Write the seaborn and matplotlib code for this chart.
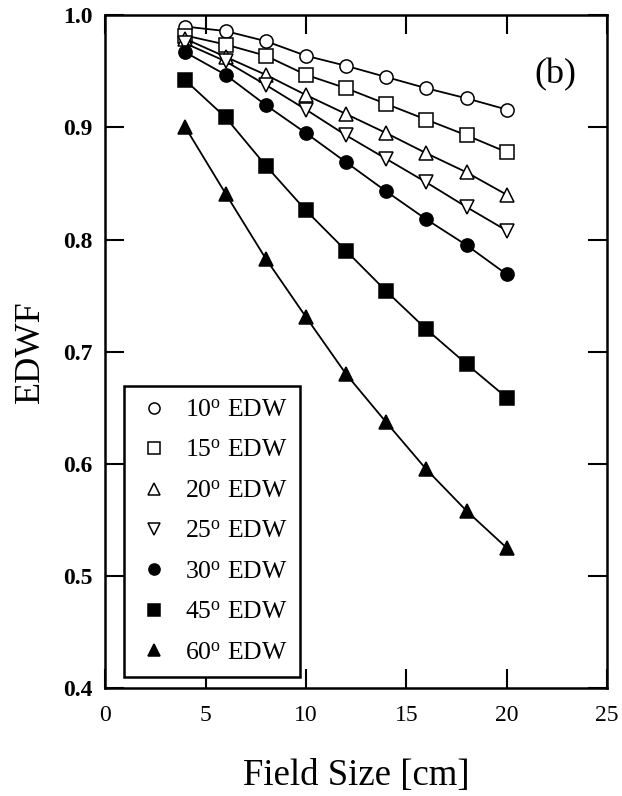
import matplotlib
matplotlib.use("Agg")
import matplotlib.pyplot as plt
from matplotlib.lines import Line2D
import seaborn as sns
import pandas as pd

# Field sizes (cm) at which the wedge factors were measured
field_size = [4, 6, 8, 10, 12, 14, 16, 18, 20]

# Enhanced dynamic wedge factors for each wedge angle
edwf_10 = [0.990, 0.986, 0.977, 0.964, 0.955, 0.945, 0.935, 0.926, 0.916]
edwf_15 = [0.982, 0.974, 0.964, 0.947, 0.935, 0.921, 0.907, 0.893, 0.878]
edwf_20 = [0.979, 0.963, 0.947, 0.929, 0.912, 0.895, 0.877, 0.860, 0.840]
edwf_25 = [0.975, 0.959, 0.938, 0.916, 0.893, 0.872, 0.851, 0.829, 0.808]
edwf_30 = [0.967, 0.947, 0.920, 0.895, 0.869, 0.843, 0.818, 0.795, 0.769]
edwf_45 = [0.942, 0.909, 0.866, 0.826, 0.790, 0.754, 0.720, 0.689, 0.659]
edwf_60 = [0.900, 0.841, 0.783, 0.731, 0.680, 0.637, 0.595, 0.558, 0.525]

wedge_angles = ["10", "15", "20", "25", "30", "45", "60"]
series = [edwf_10, edwf_15, edwf_20, edwf_25, edwf_30, edwf_45, edwf_60]
markers = ["o", "s", "^", "v", "o", "s", "^"]
filled = [False, False, False, False, True, True, True]

x_ticks = [0, 5, 10, 15, 20, 25]
y_ticks = [0.4, 0.5, 0.6, 0.7, 0.8, 0.9, 1.0]

sns.set_theme(style="ticks")
plt.rcParams["font.family"] = ["Liberation Serif", "DejaVu Serif"]
plt.rcParams["mathtext.fontset"] = "custom"
plt.rcParams["mathtext.rm"] = "Liberation Serif"
plt.rcParams["mathtext.it"] = "Liberation Serif:italic"
plt.rcParams["text.color"] = "black"
plt.rcParams["axes.labelcolor"] = "black"
plt.rcParams["xtick.color"] = "black"
plt.rcParams["ytick.color"] = "black"

fig = plt.figure(figsize=(6.22, 7.96), dpi=100)
ax = fig.add_axes([0.169, 0.1357, 0.807, 0.845])

rows = []
for angle, vals in zip(wedge_angles, series):
    for fs, v in zip(field_size, vals):
        rows.append({"angle": angle, "field": fs, "edwf": v})
df = pd.DataFrame(rows)

handles = []
for angle, mk, fill in zip(wedge_angles, markers, filled):
    sub = df[df["angle"] == angle]
    sns.lineplot(data=sub, x="field", y="edwf", ax=ax, color="black",
                 linewidth=1.3, marker=mk, markersize=9.5,
                 markerfacecolor="black" if fill else "white",
                 markeredgecolor="black", markeredgewidth=1.1,
                 legend=False)
    handles.append(Line2D([], [], linestyle="none", marker=mk, markersize=8,
                          markerfacecolor="black" if fill else "white",
                          markeredgecolor="black", markeredgewidth=1.1,
                          label=angle + r"$^\mathrm{o}$ EDW"))

ax.set_xlim(0, 25)
ax.set_ylim(0.4, 1.0)
ax.set_xticks(x_ticks)
ax.set_yticks(y_ticks)
ax.set_xticklabels([str(t) for t in x_ticks], fontsize=17)
ax.set_yticklabels([f"{t:.1f}" for t in y_ticks], fontsize=17,
                   fontweight="bold")

ax.tick_params(axis="both", which="major", direction="in", length=14,
               width=1.5, top=True, right=True, color="black")
ax.tick_params(axis="x", pad=12)
ax.tick_params(axis="y", pad=9)
for sp in ax.spines.values():
    sp.set_linewidth(1.8)
    sp.set_color("black")

ax.set_xlabel("Field Size [cm]", fontsize=26.5, labelpad=24)
ax.set_ylabel("EDWF", fontsize=26, labelpad=12)

ax.text(0.898, 0.912, "(b)", transform=ax.transAxes, fontsize=26,
        ha="center", va="center")

leg = ax.legend(handles=handles, loc="lower left",
                bbox_to_anchor=(0.038, 0.016), borderaxespad=0,
                fontsize=18.5, frameon=True, fancybox=False,
                handlelength=1.3, handletextpad=0.55, labelspacing=0.68,
                borderpad=0.5)
leg.get_frame().set_edgecolor("black")
leg.get_frame().set_linewidth(1.8)
leg.get_frame().set_alpha(1)

fig.savefig("out.png", dpi=100)
